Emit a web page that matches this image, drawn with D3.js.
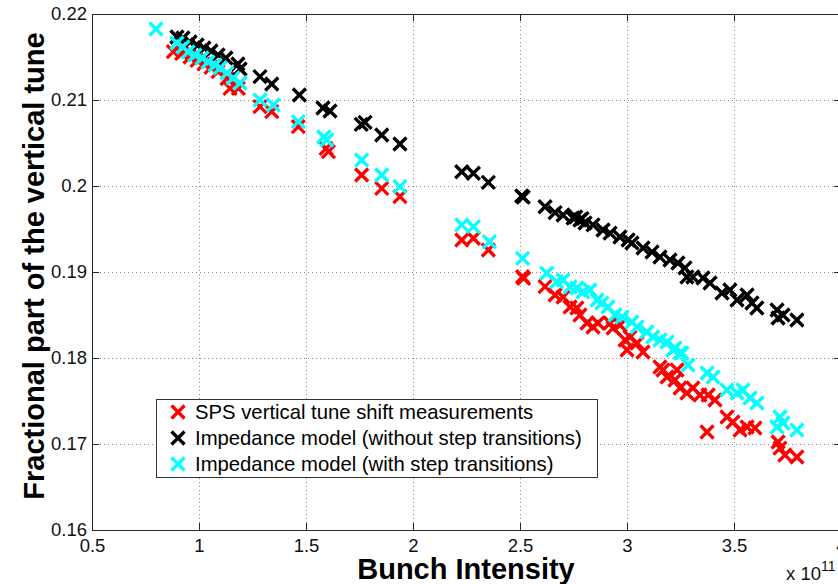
<!DOCTYPE html>
<html><head><meta charset="utf-8">
<script src="https://cdn.jsdelivr.net/npm/d3@7/dist/d3.min.js"></script>
<style>
body{margin:0;background:#fff;}
svg{display:block;}
</style></head>
<body>
<svg id="chart" width="838" height="584"></svg>
<script>
// Bunch intensity (x 1e11), fractional vertical tune
const measured = [
[0.880,0.21562],[0.919,0.21543],[0.958,0.21500],[0.991,0.21460],[1.023,0.21420],[1.056,0.21380],[1.089,0.21330],[1.131,0.21250],[1.145,0.21136],[1.184,0.21136],
[1.285,0.20922],[1.340,0.20864],[1.464,0.20690],[1.594,0.20438],[1.605,0.20399],[1.760,0.20128],[1.854,0.19973],[1.939,0.19876],
[2.228,0.19372],[2.282,0.19392],[2.352,0.19256],[2.512,0.18945],[2.517,0.18925],[2.617,0.18829],[2.664,0.18733],
[2.701,0.18709],[2.734,0.18593],[2.766,0.18581],[2.780,0.18500],[2.813,0.18407],[2.841,0.18360],[2.864,0.18407],[2.921,0.18407],
[2.935,0.18349],[2.967,0.18384],[2.991,0.18209],[3.014,0.18244],[3.000,0.18093],[3.047,0.18174],[3.075,0.18070],[3.154,0.17895],
[3.168,0.17860],[3.187,0.17779],[3.224,0.17744],[3.234,0.17860],[3.248,0.17651],[3.280,0.17593],[3.308,0.17651],[3.341,0.17570],
[3.379,0.17570],[3.374,0.17140],[3.411,0.17512],[3.467,0.17314],[3.495,0.17256],[3.528,0.17163],[3.561,0.17198],[3.598,0.17186],
[3.706,0.17023],[3.715,0.16953],[3.738,0.16872],[3.794,0.16849]
];
const modelNoSteps = [
[0.897,0.21733],[0.925,0.21721],[0.958,0.21674],[0.991,0.21640],[1.023,0.21605],[1.056,0.21570],[1.089,0.21523],[1.126,0.21488],[1.182,0.21419],[1.192,0.21360],
[1.285,0.21271],[1.340,0.21186],[1.469,0.21058],[1.579,0.20907],[1.612,0.20872],[1.758,0.20716],[1.776,0.20740],[1.854,0.20593],[1.939,0.20488],
[2.228,0.20166],[2.282,0.20148],[2.352,0.20043],[2.508,0.19884],[2.515,0.19870],[2.617,0.19759],[2.664,0.19690],
[2.701,0.19663],[2.748,0.19628],[2.760,0.19640],[2.780,0.19605],[2.790,0.19620],[2.804,0.19570],[2.841,0.19547],[2.888,0.19488],[2.921,0.19453],[2.967,0.19407],
[3.005,0.19372],[3.023,0.19337],[3.075,0.19279],[3.117,0.19233],[3.154,0.19174],[3.201,0.19140],[3.238,0.19105],[3.271,0.19047],
[3.280,0.18942],[3.308,0.18942],[3.355,0.18930],[3.388,0.18872],[3.444,0.18756],[3.481,0.18791],[3.514,0.18674],[3.561,0.18733],
[3.584,0.18640],[3.607,0.18581],[3.701,0.18558],[3.706,0.18465],[3.729,0.18500],[3.794,0.18442]
];
const modelSteps = [
[0.799,0.21826],[0.897,0.21663],[0.925,0.21616],[0.949,0.21558],[0.981,0.21523],[1.014,0.21488],[1.042,0.21442],[1.075,0.21407],[1.098,0.21372],[1.131,0.21314],[1.159,0.21256],[1.192,0.21198],
[1.285,0.21000],[1.347,0.20942],[1.464,0.20748],[1.583,0.20570],[1.597,0.20535],[1.760,0.20302],[1.854,0.20128],[1.939,0.19992],
[2.228,0.19547],[2.282,0.19527],[2.357,0.19352],[2.512,0.19159],[2.625,0.18985],[2.671,0.18887],
[2.701,0.18907],[2.734,0.18826],[2.766,0.18814],[2.794,0.18767],[2.827,0.18791],[2.860,0.18674],[2.883,0.18640],[2.911,0.18593],
[2.944,0.18500],[2.977,0.18477],[3.023,0.18419],[3.047,0.18360],[3.093,0.18302],[3.121,0.18244],[3.154,0.18209],[3.187,0.18186],
[3.215,0.18093],[3.224,0.18116],[3.248,0.18058],[3.257,0.18058],[3.285,0.17919],[3.374,0.17826],[3.402,0.17779],[3.467,0.17628],
[3.514,0.17593],[3.542,0.17628],[3.575,0.17535],[3.607,0.17477],[3.701,0.17198],[3.715,0.17314],[3.729,0.17244],[3.794,0.17163]
];
const seriesNames = ["SPS vertical tune shift measurements","Impedance model (without step transitions)","Impedance model (with step transitions)"];
const seriesColors = ["#ff0000","#000000","#00ffff"];
const xTicks = [0.5,1,1.5,2,2.5,3,3.5,4];
const yTicks = [0.16,0.17,0.18,0.19,0.2,0.21,0.22];

const svg = d3.select("#chart");
const pL = 92, pR = 841, pT = 14, pB = 530;
const x = d3.scaleLinear().domain([0.5,4]).range([pL,pR]);
const y = d3.scaleLinear().domain([0.16,0.22]).range([pB,pT]);
const font = "'Liberation Sans',Arial,sans-serif";

// grid
const grid = svg.append("g").attr("stroke","#8a8a8a").attr("stroke-width",1).attr("stroke-dasharray","1,3");
xTicks.slice(1,-1).forEach(t=>grid.append("line").attr("x1",Math.round(x(t))+0.5).attr("x2",Math.round(x(t))+0.5).attr("y1",pT).attr("y2",pB));
yTicks.slice(1,-1).forEach(t=>grid.append("line").attr("y1",Math.round(y(t))+0.5).attr("y2",Math.round(y(t))+0.5).attr("x1",pL).attr("x2",pR));

// axes (MATLAB style, inward ticks)
const xAx = svg.append("g").attr("transform",`translate(0,${pB})`)
  .call(d3.axisBottom(x).tickValues(xTicks).tickSizeInner(-7).tickSizeOuter(0).tickPadding(9).tickFormat(d3.format("")));
const xAxTop = svg.append("g").attr("transform",`translate(0,${pT})`)
  .call(d3.axisTop(x).tickValues(xTicks).tickSizeInner(-7).tickSizeOuter(0).tickFormat(""));
const yAx = svg.append("g").attr("transform",`translate(${pL},0)`)
  .call(d3.axisLeft(y).tickValues(yTicks).tickSizeInner(-7).tickSizeOuter(0).tickPadding(5).tickFormat(d3.format("")));
const yAxR = svg.append("g").attr("transform",`translate(${pR},0)`)
  .call(d3.axisRight(y).tickValues(yTicks).tickSizeInner(-7).tickSizeOuter(0).tickFormat(""));
[xAx,xAxTop,yAx,yAxR].forEach(g=>{
  g.selectAll("path").attr("stroke","#262626");
  g.selectAll("line").attr("stroke","#262626");
  g.selectAll("text").attr("font-family",font).attr("font-size",18.5).attr("fill","#111");
});

// markers
function cross(sel, color){
  const s = 6.5;
  sel.attr("d",`M${-s},${-s}L${s},${s}M${-s},${s}L${s},${-s}`)
     .attr("stroke",color).attr("stroke-width",3.3).attr("fill","none");
}
[measured, modelNoSteps, modelSteps].forEach((data,i)=>{
  svg.append("g").selectAll("path").data(data).join("path")
    .attr("transform",d=>`translate(${x(d[0])},${y(d[1])})`)
    .call(cross, seriesColors[i]);
});

// legend
const lg = svg.append("g").attr("transform","translate(156,399)");
lg.append("rect").attr("x",0.5).attr("y",0.5).attr("width",441).attr("height",78).attr("fill","#fff").attr("stroke","#333");
seriesNames.forEach((n,i)=>{
  const yy = 13 + i*26;
  lg.append("path").attr("transform",`translate(22,${yy})`).call(cross, seriesColors[i]);
  lg.append("text").attr("x",39).attr("y",yy).attr("dy","0.35em")
    .attr("font-family",font).attr("font-size",20.3).attr("fill","#000").text(n);
});

// labels
svg.append("text").attr("x",466).attr("y",579).attr("text-anchor","middle")
  .attr("font-family",font).attr("font-weight","bold").attr("font-size",29).text("Bunch Intensity");
svg.append("text").attr("transform","translate(44,266) rotate(-90)").attr("text-anchor","middle")
  .attr("font-family",font).attr("font-weight","bold").attr("font-size",29).text("Fractional part of the vertical tune");
const exp = svg.append("text").attr("x",786).attr("y",580).attr("font-family",font).attr("font-size",18.5).attr("fill","#111");
exp.append("tspan").text("x 10");
exp.append("tspan").attr("dy",-9).attr("font-size",14).text("11");
</script>
</body></html>
